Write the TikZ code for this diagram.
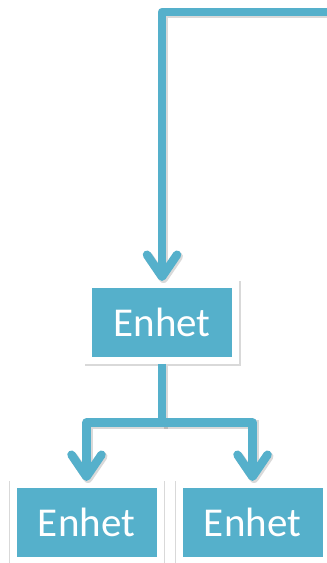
\documentclass[tikz,border=0pt]{standalone}
\usepackage{fontspec}
\setmainfont{Carlito}
\usetikzlibrary{arrows.meta,shadows}
\definecolor{enhetblue}{HTML}{55B0CB}

\begin{document}
\begin{tikzpicture}[x=1pt,y=1pt,
   box/.style={fill=enhetblue, draw=white, line width=7pt, minimum width=147pt, minimum height=76pt,
      text=white, font=\fontsize{41}{46}\selectfont,
      drop shadow={shadow xshift=0.8pt, shadow yshift=-1.5pt, opacity=1, fill=black!15, draw=black!15, line width=9pt}},
   conn/.style={draw=enhetblue, line width=8.5pt, line join=round,
      -{Straight Barb[length=22pt, width=30pt, round]},
      preaction={draw=black, opacity=0.15, line width=9pt, transform canvas={shift={(1.5pt,-2pt)}}}}]
\useasboundingbox (0,0) rectangle (327,563);
\node[box] (mid) at (162,240.5) {Enhet};
\node[box] (left) at (86.5,40.5) {Enhet};
\node[box] (right) at (252.5,40.5) {Enhet};
\coordinate (src) at (340,551);
\coordinate (fork) at ([yshift=-58.5pt]mid.south);
\draw[conn] (src) -| (mid.north);
\draw[conn] (mid.south) -- (fork) -| (left.north);
\draw[conn] (fork) -| (right.north);
\end{tikzpicture}
\end{document}
